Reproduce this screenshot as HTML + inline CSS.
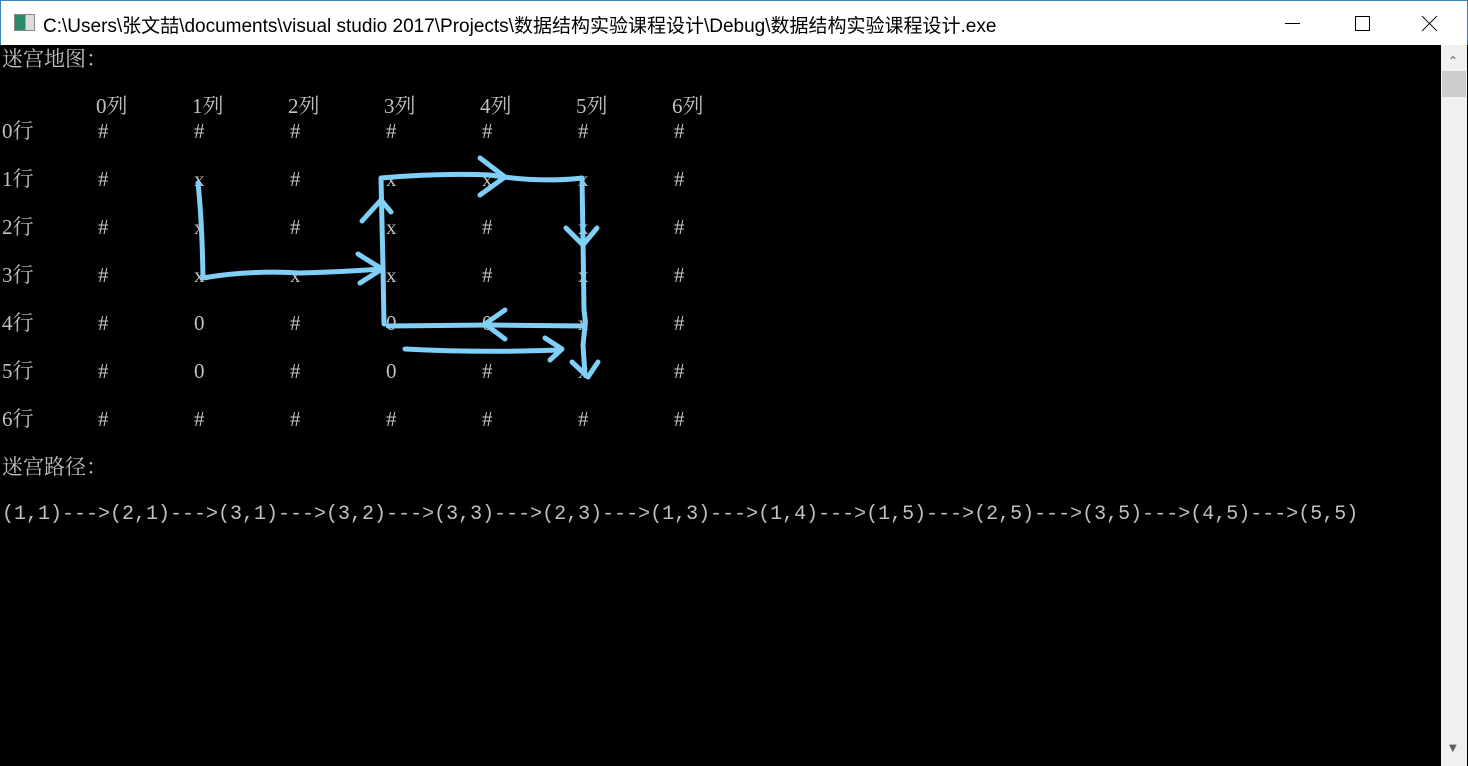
<!DOCTYPE html>
<html><head><meta charset="utf-8"><style>
*{margin:0;padding:0;box-sizing:border-box}
body{width:1468px;height:766px;overflow:hidden;background:#000;position:relative;font-family:"Liberation Serif","Noto Serif CJK SC",serif;}
#titlebar{position:absolute;left:0;top:0;width:1468px;height:45px;background:#fff;border:1px solid #3c7fb1;border-bottom:none}
#title{position:absolute;left:42px;top:10px;font-family:"Liberation Sans","Noto Sans CJK SC",sans-serif;font-size:19px;color:#000;white-space:nowrap}
.t{position:absolute;color:#c0c0c0;font-size:21px;line-height:24px;white-space:nowrap}
#scroll{position:absolute;left:1441px;top:45px;width:26px;height:721px;background:#f0f0f0}
.cl{position:absolute;left:0;top:7px;width:21px;height:1px;background:#000}
</style></head><body>
<div id="titlebar">
 <div style="position:absolute;left:13px;top:13px;width:21px;height:17px;border:1px solid #888;background:linear-gradient(90deg,#2a8a6a 0 55%,#ddd 55%)"></div>
 <div id="title">C:\Users\张文喆\documents\visual studio 2017\Projects\数据结构实验课程设计\Debug\数据结构实验课程设计.exe</div>
 <div style="position:absolute;left:1284px;top:22px;width:15px;height:1px;background:#000"></div>
 <div style="position:absolute;left:1354px;top:15px;width:15px;height:15px;border:1px solid #000"></div>
 <div style="position:absolute;left:1418px;top:15px;width:21px;height:15px">
  <div class="cl" style="transform:rotate(45deg)"></div><div class="cl" style="transform:rotate(-45deg)"></div>
 </div>
</div>
<div id="scroll">
 <div style="position:absolute;left:7px;top:9px;font-size:12px;color:#606060;font-family:'DejaVu Sans',sans-serif">⌃</div>
 <div style="position:absolute;left:1px;top:26px;width:24px;height:26px;background:#cdcdcd"></div>
 <div style="position:absolute;left:8px;top:698px;font-size:10px;color:#606060;font-family:'DejaVu Sans',sans-serif">▼</div>
</div>
<div class="t" style="left:2px;top:47px">迷宫地图：</div>
<div id="grid"></div>
<div class="t" style="left:2px;top:455px">迷宫路径：</div>
<div class="t" style="left:2px;top:503px;font-family:'Liberation Mono',monospace;font-size:20px">(1,1)---&gt;(2,1)---&gt;(3,1)---&gt;(3,2)---&gt;(3,3)---&gt;(2,3)---&gt;(1,3)---&gt;(1,4)---&gt;(1,5)---&gt;(2,5)---&gt;(3,5)---&gt;(4,5)---&gt;(5,5)</div>
<svg width="1468" height="766" style="position:absolute;left:0;top:0">
<g fill="none" stroke="#7fcff6" stroke-width="5" stroke-linecap="round" stroke-linejoin="round">
<path d="M198 183 Q202 220 203 278 Q250 270 300 273 Q340 272 382 269"/>
<path d="M358 254 L382 269 L360 283"/>
<path d="M384 324 L383 268 L381 178 Q440 173 490 175 Q540 183 582 178 L583 240 L584 310 Q586 325 585 326 L583 345 L585 375"/>
<path d="M362 221 L381 200 L391 212"/>
<path d="M480 158 L505 177 L480 195"/>
<path d="M566 228 L583 245 L597 228"/>
<path d="M585 326 L490 325 L388 326"/>
<path d="M505 310 L485 324 L505 339"/>
<path d="M405 349 Q480 353 560 350"/>
<path d="M545 338 L562 349 L550 360"/>
<path d="M572 362 L588 377 L598 362"/>
</g></svg>
<script>
const colLabels=["0列","1列","2列","3列","4列","5列","6列"];
const rowLabels=["0行","1行","2行","3行","4行","5行","6行"];
const cells=[
"#######",
"#x#xxx#",
"#x#x#x#",
"#xxx#x#",
"#0#00x#",
"#0#0#x#",
"#######"];
const g=document.getElementById('grid');
colLabels.forEach((c,i)=>{const d=document.createElement('div');d.className='t';


d.style.left=(96+i*96)+'px';d.style.top='94px';d.textContent=c;g.appendChild(d);});
rowLabels.forEach((r,j)=>{const y=119+j*48;const d=document.createElement('div');d.className='t';


d.style.left='2px';d.style.top=y+'px';d.textContent=r;g.appendChild(d);
[...cells[j]].forEach((ch,i)=>{const e=document.createElement('div');e.className='t';


e.style.left=(96+i*96+2)+'px';e.style.top=y+'px';e.textContent=ch;g.appendChild(e);});});
</script>
</body></html>
